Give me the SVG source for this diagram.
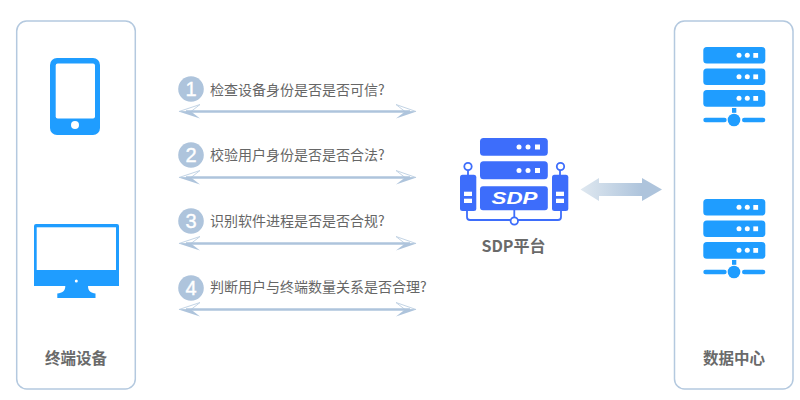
<svg xmlns="http://www.w3.org/2000/svg" xmlns:xlink="http://www.w3.org/1999/xlink" width="800" height="400" viewBox="0 0 800 400">
<style>
.panel{fill:#fff;stroke:#b4c9df;stroke-width:1.5}
.lbl{font-family:"Noto Sans CJK SC","Noto Sans",sans-serif;font-size:14px;fill:#666}
.ttl{font-family:"Noto Sans CJK SC","Noto Sans",sans-serif;font-size:15.500px;font-weight:700;fill:#6a6a6a;text-anchor:middle}
.num{font-family:"Liberation Sans",sans-serif;font-size:20px;fill:#fff;stroke:#fff;stroke-width:.4;text-anchor:middle}
.badge{fill:#aec4dc}
.blue{fill:#1f9dff}
.sdp{fill:#3d6dfb}
.ln{stroke:#aec4dc;stroke-width:2.400;fill:none}
.hu{fill:#fff;stroke:#c3d4e5;stroke-width:1}
.hl{fill:#aec4dc}
</style>
<defs>
<linearGradient id="g" x1="0" x2="1" y1="0" y2="0"><stop offset="0" stop-color="#dfe8f0"/><stop offset=".75" stop-color="#aec4dc"/><stop offset="1" stop-color="#aec4dc"/></linearGradient>
<g id="dbl">
<path class="hu" d="M179 0L200 -7L191 0Z"/>
<path class="hu" d="M416 0L396 -7L405 0Z"/>
<path class="hl" d="M178.500 0H191L200 7Z"/>
<path class="hl" d="M416.500 0H405L396 7Z"/>
<path class="ln" d="M186 0H410"/>
</g>
<g id="srv">
<rect x="703.300" y="47" width="62" height="16.500" rx="3.500" class="blue"/>
<rect x="703.300" y="68.500" width="62" height="16.500" rx="3.500" class="blue"/>
<rect x="703.300" y="90" width="62" height="16.700" rx="3.500" class="blue"/>
<g fill="#fff">
<circle cx="739" cy="55.300" r="2.500"/><circle cx="747.300" cy="55.300" r="2.500"/><rect x="753.300" y="53" width="4.800" height="4.800"/>
<circle cx="739" cy="76.800" r="2.500"/><circle cx="747.300" cy="76.800" r="2.500"/><rect x="753.300" y="74.400" width="4.800" height="4.800"/>
<circle cx="739" cy="98.300" r="2.500"/><circle cx="747.300" cy="98.300" r="2.500"/><rect x="753.300" y="96" width="4.800" height="4.800"/>
</g>
<rect x="732" y="108" width="4.300" height="4.800" class="blue"/>
<rect x="703.300" y="117.700" width="23.400" height="4.600" rx="2.300" class="blue"/>
<rect x="742" y="117.700" width="23.300" height="4.600" rx="2.300" class="blue"/>
<circle cx="734" cy="120" r="6.300" class="blue"/>
</g>
</defs>
<rect width="800" height="400" fill="#fff"/>
<g id="connectors">
<use xlink:href="#dbl" href="#dbl" y="111.500"/>
<use xlink:href="#dbl" href="#dbl" y="177.500"/>
<use xlink:href="#dbl" href="#dbl" y="243.500"/>
<use xlink:href="#dbl" href="#dbl" y="309.500"/>
<path d="M580.500 189.500L599 178V183H642V178L662 189.500L642 201V196H599V201Z" fill="url(#g)"/>
</g>
<g id="terminal">
<rect class="panel" x="16.700" y="21" width="118.600" height="368" rx="10"/>
<rect class="blue" x="50" y="58" width="50" height="77" rx="7"/>
<rect x="55.700" y="63.500" width="39.300" height="55" rx="2" fill="#fff"/>
<circle cx="75" cy="125" r="4" fill="#fff"/>
<path class="blue" d="M34 226a2 2 0 0 1 2-2H117a2 2 0 0 1 2 2V286H88c0 5 3 7 7.500 7.500V298H57.300V293.500c5-.5 8-2.500 8-7.500H34Z"/>
<rect x="36.700" y="227.300" width="79.300" height="42.700" fill="#fff"/>
<circle cx="76.300" cy="281" r="1.500" fill="#fff"/>
<text class="ttl" x="76" y="364">终端设备</text>
</g>
<g id="step1"><circle class="badge" cx="191" cy="89" r="12.800"/><text class="num" x="191" y="96">1</text><text class="lbl" x="210" y="95">检查设备身份是否是否可信?</text></g>
<g id="step2"><circle class="badge" cx="191" cy="155" r="12.800"/><text class="num" x="191" y="162">2</text><text class="lbl" x="210" y="160">校验用户身份是否是否合法?</text></g>
<g id="step3"><circle class="badge" cx="191" cy="221" r="12.800"/><text class="num" x="191" y="228">3</text><text class="lbl" x="210" y="226">识别软件进程是否是否合规?</text></g>
<g id="step4"><circle class="badge" cx="191" cy="288" r="12.800"/><text class="num" x="191" y="295">4</text><text class="lbl" x="210" y="292">判断用户与终端数量关系是否合理?</text></g>
<g id="sdp">
<rect class="sdp" x="480" y="138" width="67.800" height="17.800" rx="3.500"/>
<rect class="sdp" x="480" y="161.300" width="67.800" height="18" rx="3.500"/>
<rect class="sdp" x="480" y="186.300" width="67.800" height="23.900" rx="3"/>
<g fill="#fff">
<circle cx="519" cy="147" r="2.500"/><circle cx="528" cy="147" r="2.500"/><rect x="535" y="144.500" width="5" height="5"/>
<circle cx="519" cy="170.500" r="2.500"/><circle cx="528" cy="170.500" r="2.500"/><rect x="535" y="168" width="5" height="5"/>
</g>
<text x="491.500" y="204" font-family="Liberation Sans,sans-serif" font-size="17" font-weight="700" font-style="italic" fill="#fff" textLength="46" lengthAdjust="spacingAndGlyphs">SDP</text>
<rect class="sdp" x="460" y="174.700" width="16.300" height="36.300" rx="2.500"/>
<rect class="sdp" x="552" y="174.700" width="16.300" height="36.300" rx="2.500"/>
<g fill="#fff"><rect x="464" y="191.700" width="8" height="4.300"/><rect x="464" y="198.700" width="8" height="4.300"/><rect x="556" y="191.700" width="8" height="4.300"/><rect x="556" y="198.700" width="8" height="4.300"/></g>
<g fill="none" stroke="#3d6dfb" stroke-width="1.800">
<path d="M468 170V175M560 170V175M467 211V217a3 3 0 0 0 3 3H558a3 3 0 0 0 3-3V211M514.300 210V217"/>
<circle cx="468" cy="166.500" r="3.700" fill="#fff"/><circle cx="560.500" cy="166.500" r="3.700" fill="#fff"/><circle cx="514.300" cy="221" r="3.700" fill="#fff"/>
</g>
<text class="ttl" style="font-size:16px" x="513.500" y="252">SDP平台</text>
</g>
<g id="datacenter">
<rect class="panel" x="674.500" y="21" width="118.500" height="368" rx="10"/>
<use xlink:href="#srv" href="#srv"/>
<use xlink:href="#srv" href="#srv" y="152"/>
<text class="ttl" x="734" y="364">数据中心</text>
</g>
</svg>
